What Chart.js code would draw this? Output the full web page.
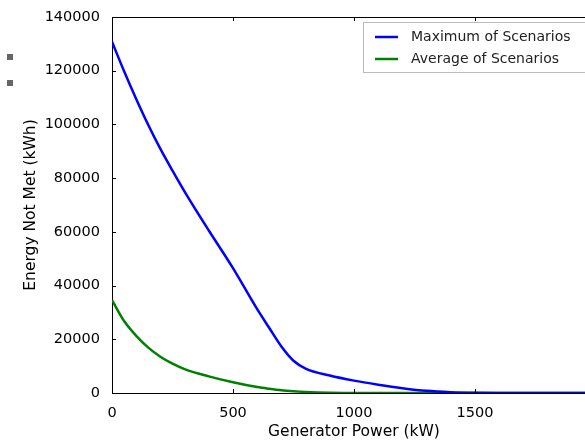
<!DOCTYPE html>
<html>
<head>
<meta charset="utf-8">
<script src="https://cdn.jsdelivr.net/npm/chart.js@4.4.0/dist/chart.umd.min.js"></script>
<style>
  html, body { margin: 0; padding: 0; background: #fff; overflow: hidden; }
  #wrap { width: 600px; height: 441px; }
</style>
</head>
<body>
<div id="wrap"><canvas id="grafico" width="600" height="441"></canvas></div>
<script>
// generator power (kW) and energy not met (kWh)
var powerKW = [0, 50, 100, 150, 200, 250, 300, 400, 500, 600, 650, 700, 750, 800, 900, 1000, 1100, 1200, 1300, 1400, 1500, 1600, 1800, 2000];
var maxScenarios = [130800, 119800, 109500, 99800, 90900, 82800, 75000, 60500, 46500, 31200, 24200, 17300, 12000, 9100, 6500, 4600, 3100, 1800, 800, 300, 80, 0, 0, 0];
var avgScenarios = [34600, 26800, 21300, 16900, 13500, 10900, 8900, 6200, 4000, 2200, 1550, 1000, 650, 400, 120, 30, 0, 0, 0, 0, 0, 0, 0, 0];
var seriesNames = ["Maximum of Scenarios", "Average of Scenarios"];
var yTicks = [0, 20000, 40000, 60000, 80000, 100000, 120000, 140000];
var xTicks = [0, 500, 1000, 1500];

function punti(ys) {
    var out = [];
    for (let i = 0; i < powerKW.length; i++) {
        out.push({ x: powerKW[i], y: ys[i] });
    }
    return out;
}

var FONT = "'DejaVu Sans', sans-serif";

// bordo superiore, tacche verso l'interno, legenda e i due quadratini grigi
var cornice = {
    id: "cornice",
    afterDraw: function (chart) {
        var ctx = chart.ctx;
        var a = chart.chartArea;
        var xs = chart.scales.x, ys = chart.scales.y;
        ctx.save();
        ctx.strokeStyle = "#000";
        ctx.lineWidth = 1;
        ctx.beginPath();
        ctx.moveTo(a.left, a.top + 0.5);
        ctx.lineTo(a.right, a.top + 0.5);
        for (let i = 0; i < xTicks.length; i++) {
            var px = Math.round(xs.getPixelForValue(xTicks[i])) + 0.5;
            ctx.moveTo(px, a.bottom);
            ctx.lineTo(px, a.bottom - 4);
            ctx.moveTo(px, a.top);
            ctx.lineTo(px, a.top + 4);
        }
        for (let i = 0; i < yTicks.length; i++) {
            var py = Math.round(ys.getPixelForValue(yTicks[i])) + 0.5;
            ctx.moveTo(a.left, py);
            ctx.lineTo(a.left + 4, py);
        }
        ctx.stroke();

        // legenda
        var bx = 363, by = 22, bw = 260, bh = 50;
        ctx.fillStyle = "#fff";
        ctx.fillRect(bx, by, bw, bh);
        ctx.strokeStyle = "#bbb";
        ctx.strokeRect(bx + 0.5, by + 0.5, bw, bh);
        ctx.font = "14px " + FONT;
        ctx.textBaseline = "middle";
        var ds = chart.data.datasets;
        for (let i = 0; i < ds.length; i++) {
            var ry = 37 + i * 22;
            ctx.strokeStyle = ds[i].borderColor;
            ctx.lineWidth = 2.5;
            ctx.beginPath();
            ctx.moveTo(375, ry);
            ctx.lineTo(398, ry);
            ctx.stroke();
            ctx.fillStyle = "#222";
            ctx.fillText(ds[i].label, 411, ry);
        }

        ctx.fillStyle = "#666";
        ctx.fillRect(7, 54, 6, 6);
        ctx.fillRect(7, 80, 6, 6);
        ctx.restore();
    }
};

var chart = new Chart(document.getElementById("grafico").getContext("2d"), {
    type: "line",
    data: {
        datasets: [{
            label: seriesNames[0],
            data: punti(maxScenarios),
            borderColor: "#0000ff",
            borderWidth: 2.5,
            pointRadius: 0,
            cubicInterpolationMode: "monotone",
            fill: false
        }, {
            label: seriesNames[1],
            data: punti(avgScenarios),
            borderColor: "#008000",
            borderWidth: 2.5,
            pointRadius: 0,
            cubicInterpolationMode: "monotone",
            fill: false
        }]
    },
    options: {
        responsive: false,
        animation: false,
        layout: { padding: { top: 17, right: 4, left: 0, bottom: 0 } },
        plugins: { legend: { display: false }, tooltip: { enabled: false } },
        scales: {
            x: {
                type: "linear",
                min: 0,
                max: 2000,
                grid: { display: false, drawTicks: false },
                border: { display: true, color: "#000", width: 1 },
                afterBuildTicks: function (s) {
                    s.ticks = xTicks.map(function (v) { return { value: v }; });
                },
                afterFit: function (s) { s.height = 48; },
                ticks: {
                    color: "#000",
                    font: { family: FONT, size: 14.5 },
                    padding: 12,
                    maxRotation: 0,
                    callback: function (v) { return String(v); }
                },
                title: { display: true, text: "Generator Power (kW)", color: "#000", font: { family: FONT, size: 15.5 }, padding: { top: 0, bottom: 0 } }
            },
            y: {
                min: 0,
                max: 140000,
                grid: { display: false, drawTicks: false },
                border: { display: true, color: "#000", width: 1 },
                afterBuildTicks: function (s) {
                    s.ticks = yTicks.map(function (v) { return { value: v }; });
                },
                afterFit: function (s) { s.width = 112; },
                ticks: {
                    color: "#000",
                    font: { family: FONT, size: 14.5, lineHeight: 0.5 },
                    padding: 12,
                    callback: function (v) { return String(v); }
                },
                title: { display: true, text: "Energy Not Met (kWh)", color: "#000", font: { family: FONT, size: 15.5 }, padding: { top: 22, bottom: 0 } }
            }
        }
    },
    plugins: [cornice]
});
</script>
</body>
</html>
